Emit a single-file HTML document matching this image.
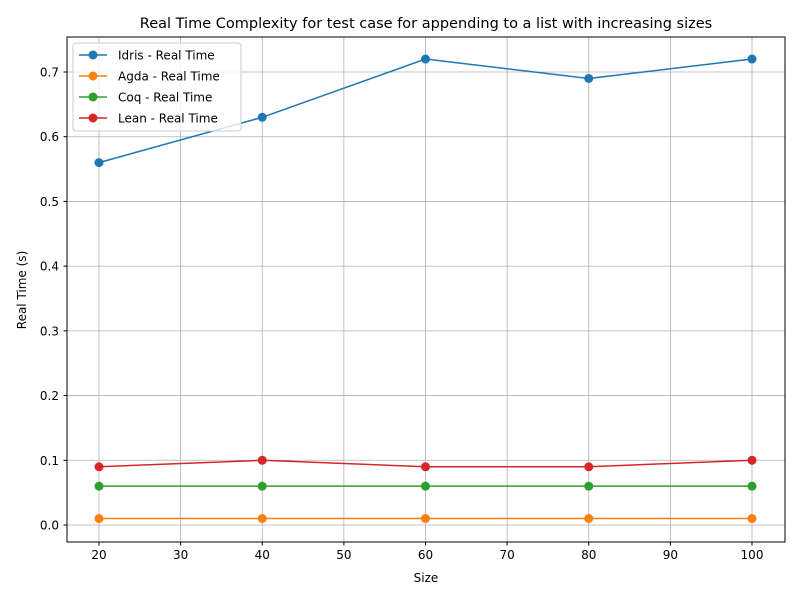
<!DOCTYPE html>
<html><head><meta charset="utf-8"><style>
body{margin:0;background:#fff;font-family:"Liberation Sans","DejaVu Sans",sans-serif;}
svg text{font-family:"DejaVu Sans","Liberation Sans",sans-serif;}
</style></head><body>
<svg id="chart" width="800" height="600" xmlns="http://www.w3.org/2000/svg">
<rect width="800" height="600" fill="#fff"/>
<text x="426" y="28" font-size="14.5" text-anchor="middle">Real Time Complexity for test case for appending to a list with increasing sizes</text>
<g id="grid"></g>
<g id="series"></g>
<rect x="67" y="37" width="718" height="505" fill="none" stroke="#000" stroke-width="1"/>
<g id="ticks"></g>
<text x="426" y="582" font-size="12" text-anchor="middle">Size</text>
<text x="26" y="290" font-size="12" text-anchor="middle" transform="rotate(-90 26 290)">Real Time (s)</text>
<g id="legend"></g>
</svg>
<script>
const sizes=[20,40,60,80,100];
const idris=[0.56,0.63,0.72,0.69,0.72];
const agda=[0.01,0.01,0.01,0.01,0.01];
const coq=[0.06,0.06,0.06,0.06,0.06];
const lean=[0.09,0.10,0.09,0.09,0.10];
const seriesNames=["Idris - Real Time","Agda - Real Time","Coq - Real Time","Lean - Real Time"];
const xTicks=[20,30,40,50,60,70,80,90,100];
const yTicks=[0.0,0.1,0.2,0.3,0.4,0.5,0.6,0.7];
const ns="http://www.w3.org/2000/svg";
const xs=v=>99+(v-20)*(752-99)/80;
const ys=v=>525-v*(525-72)/0.7;
function mk(t,a,p){const e=document.createElementNS(ns,t);for(const k in a)e.setAttribute(k,a[k]);p.appendChild(e);return e;}
const grid=document.getElementById('grid'),ticks=document.getElementById('ticks');
xTicks.forEach(v=>{const x=xs(v);
const g=mk('line',{x1:x,x2:x,y1:37,y2:542,stroke:'#b0b0b0','stroke-width':0.8},grid);


const t=mk('line',{x1:x,x2:x,y1:542,y2:545.5,stroke:'#000'},ticks);


const l=mk('text',{x:x,y:559,'font-size':12,'text-anchor':'middle'},ticks);l.textContent=v;

});
yTicks.forEach(v=>{const y=ys(v);
const g=mk('line',{x1:67,x2:785,y1:y,y2:y,stroke:'#b0b0b0','stroke-width':0.8},grid);


const t=mk('line',{x1:63.5,x2:67,y1:y,y2:y,stroke:'#000'},ticks);


const l=mk('text',{x:59,y:y+4.5,'font-size':12,'text-anchor':'end'},ticks);l.textContent=v.toFixed(1);

});
const colors=['#1f77b4','#ff7f0e','#2ca02c','#d62728'];
const data=[idris,agda,coq,lean];
const sg=document.getElementById('series');
data.forEach((d,i)=>{
const g=mk('g',{},sg);


mk('polyline',{points:d.map((v,j)=>xs(sizes[j])+','+ys(v)).join(' '),fill:'none',stroke:colors[i],'stroke-width':1.5},g);
d.forEach((v,j)=>{const c=mk('circle',{cx:xs(sizes[j]),cy:ys(v),r:4.5,fill:colors[i]},g);

});
});
const lg=document.getElementById('legend');
const box=mk('rect',{x:73,y:43,width:168,height:88,rx:3,fill:'#fff','fill-opacity':0.8,stroke:'#ccc'},lg);


seriesNames.forEach((n,i)=>{const y=55+i*21;
const g=mk('g',{},lg);


mk('line',{x1:79,x2:107,y1:y,y2:y,stroke:colors[i],'stroke-width':1.5},g);
mk('circle',{cx:93,cy:y,r:4.5,fill:colors[i]},g);
const t=mk('text',{x:118,y:y+4.5,'font-size':12},g);t.textContent=n;});
</script>
</body></html>
